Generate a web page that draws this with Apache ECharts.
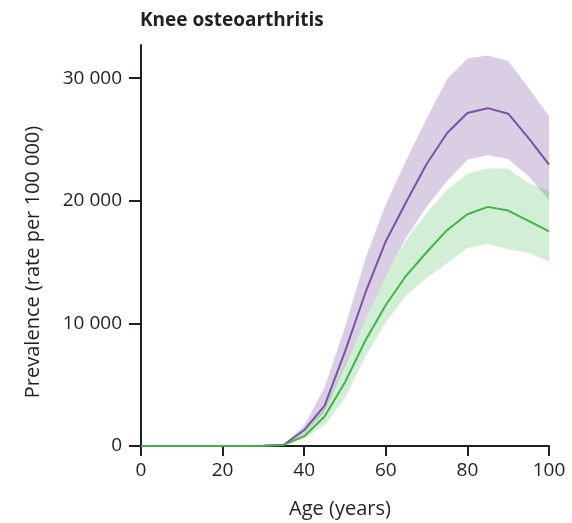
<!DOCTYPE html>
<html>
<head>
<meta charset="utf-8">
<script src="https://cdn.jsdelivr.net/npm/echarts@6/dist/echarts.min.js"></script>
<style>
  html, body { margin: 0; padding: 0; background: #ffffff; }
  #chart { width: 572px; height: 523px; }
</style>
</head>
<body>
<div id="chart"></div>
<script>
// Age groups (years)
const ages = [0, 5, 10, 15, 20, 25, 30, 35, 40, 45, 50, 55, 60, 65, 70, 75, 80, 85, 90, 95, 100];

// Purple group: prevalence per 100 000 with uncertainty interval
const purpleMean  = [0, 0, 0, 0, 0, 5, 20, 100, 1300, 3300, 7700, 12500, 16700, 19900, 23000, 25500, 27150, 27550, 27100, 25100, 22950];
const purpleLower = [0, 0, 0, 0, 0, 3, 12, 60, 1000, 2800, 6500, 10300, 13900, 17000, 19500, 21600, 23350, 23700, 23400, 22000, 20100];
const purpleUpper = [0, 0, 0, 0, 0, 8, 30, 150, 1650, 4800, 9700, 15300, 19700, 23300, 26700, 29900, 31600, 31850, 31400, 29200, 26900];

// Green group: prevalence per 100 000 with uncertainty interval
const greenMean  = [0, 0, 0, 0, 0, 5, 20, 90, 800, 2400, 5200, 8600, 11500, 13900, 15800, 17600, 18900, 19500, 19200, 18350, 17500];
const greenLower = [0, 0, 0, 0, 0, 3, 12, 55, 600, 1700, 3900, 7300, 10100, 12300, 13700, 14900, 16150, 16500, 16050, 15750, 15050];
const greenUpper = [0, 0, 0, 0, 0, 8, 30, 130, 1050, 3100, 6700, 10300, 14000, 16800, 19000, 20900, 22200, 22650, 22600, 21450, 20800];

// Axis tick values
const xTicks = [0, 20, 40, 60, 80, 100];
const yTicks = [0, 10000, 20000, 30000];

const FONT = '"Open Sans", "Noto Sans", sans-serif';
const INK = '#231f20';

function spaced(v) {
  return String(v).replace(/\B(?=(\d{3})+(?!\d))/g, ' ');
}

function pairs(xs, ys) {
  return xs.map((x, i) => [x, ys[i]]);
}

// Uncertainty band drawn as one polygon: upper edge forward, lower edge back
function bandSeries(lower, upper, color, opacity) {
  return {
    type: 'custom',
    silent: true,
    z: 1,
    data: ages.map((a, i) => [a, lower[i], upper[i]]),
    encode: { x: 0, y: [1, 2] },
    renderItem: function (params, api) {
      if (params.dataIndex !== 0) return null;
      const pts = [];
      for (let i = 0; i < ages.length; i++) pts.push(api.coord([ages[i], upper[i]]));
      for (let i = ages.length - 1; i >= 0; i--) pts.push(api.coord([ages[i], lower[i]]));
      return {
        type: 'polygon',
        shape: { points: pts },
        style: { fill: color, opacity: opacity }
      };
    }
  };
}

function lineSeries(values, color) {
  return {
    type: 'line',
    z: 3,
    data: pairs(ages, values),
    symbol: 'none',
    smooth: false,
    lineStyle: { color: color, width: 2 },
    silent: true
  };
}

const chart = echarts.init(document.getElementById('chart'), null, { renderer: 'canvas' });

chart.setOption({
  animation: false,
  backgroundColor: '#ffffff',
  title: {
    text: 'Knee osteoarthritis',
    left: 135,
    top: 6,
    textStyle: { fontFamily: FONT, fontWeight: 'bold', fontSize: 19, color: INK }
  },
  graphic: [{
    type: 'text',
    x: 33,
    y: 262,
    rotation: Math.PI / 2,
    style: {
      text: 'Prevalence (rate per 100 000)',
      fontFamily: FONT,
      fontSize: 20,
      fill: INK,
      align: 'center',
      verticalAlign: 'middle'
    }
  }],
  grid: { left: 141, right: 23, top: 45, bottom: 77, containLabel: false, outerBoundsMode: 'none' },
  xAxis: {
    type: 'value',
    min: 0,
    max: 100,
    interval: 20,
    name: 'Age (years)',
    nameLocation: 'middle',
    nameGap: 53,
    nameTextStyle: { fontFamily: FONT, fontSize: 20, color: INK, padding: [0, 10, 0, 0] },
    axisLine: { show: true, lineStyle: { color: INK, width: 2 } },
    axisTick: { show: true, length: 10, lineStyle: { color: INK, width: 2 }, customValues: xTicks },
    axisLabel: { fontFamily: FONT, fontSize: 19, color: INK, margin: 15, customValues: xTicks },
    splitLine: { show: false }
  },
  yAxis: {
    type: 'value',
    min: 0,
    max: 32700,
    interval: 10000,
    axisLine: { show: true, lineStyle: { color: INK, width: 2 } },
    axisTick: { show: true, length: 12, lineStyle: { color: INK, width: 2 }, customValues: yTicks },
    axisLabel: {
      fontFamily: FONT, fontSize: 19, color: INK, margin: 19,
      customValues: yTicks,
      formatter: v => spaced(v)
    },
    splitLine: { show: false }
  },
  series: [
    bandSeries(purpleLower, purpleUpper, '#7b4f9e', 0.28),
    bandSeries(greenLower, greenUpper, '#3db54a', 0.23),
    lineSeries(purpleMean, '#7b52a0'),
    lineSeries(greenMean, '#3db54a')
  ]
});
</script>
</body>
</html>
